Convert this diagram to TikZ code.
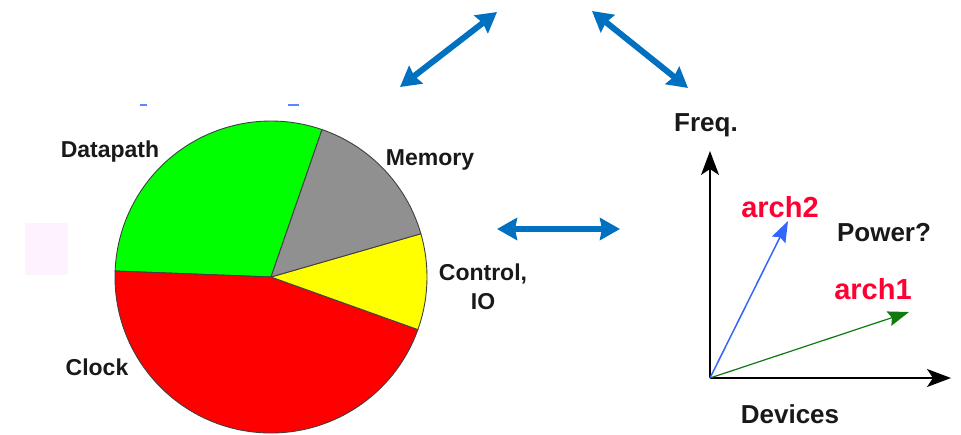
\documentclass[tikz,border=0pt]{standalone}
\usepackage{fontspec}
\setmainfont{Liberation Sans}
\usetikzlibrary{arrows.meta}
\definecolor{pieGreen}{HTML}{00FF00}
\definecolor{pieGray}{HTML}{909090}
\definecolor{pieYellow}{HTML}{FFFF00}
\definecolor{pieRed}{HTML}{FF0000}
\definecolor{linkBlue}{HTML}{0070C0}
\definecolor{archRed}{HTML}{FF0033}
\definecolor{archBlue}{HTML}{3366FF}
\definecolor{archGreen}{HTML}{107A10}
\definecolor{paleMark}{HTML}{FDF2FD}
\tikzset{
  wedge/.style={draw=black!75, line width=0.9pt, line join=round},
  pielabel/.style={font=\bfseries\fontsize{23}{29}\selectfont, text=black!90, inner sep=0pt},
  axislabel/.style={font=\bfseries\fontsize{26}{30}\selectfont, text=black!90, inner sep=0pt},
  archlabel/.style={font=\bfseries\fontsize{29}{32}\selectfont, text=archRed, inner sep=0pt},
  link/.style={linkBlue, line width=6pt, {Stealth[length=20pt,width=22pt,inset=2pt]}-{Stealth[length=20pt,width=22pt,inset=2pt]}},
  axis/.style={black, line width=1.6pt, -{Stealth[length=24pt,width=18pt,inset=6pt]}},
  vec/.style={line width=1.5pt, -{Stealth[length=21pt,width=15pt,inset=3pt]}},
}
\begin{document}
\begin{tikzpicture}[x=1pt, y=-1pt]
\useasboundingbox (0,0) rectangle (961,434);
\fill[white] (0,0) rectangle (961,434);

% faint marks at the left
\fill[paleMark] (25,223) rectangle (68,275);
\fill[archBlue!80] (140,104) rectangle (147,106);
\fill[archBlue!80] (288,104) rectangle (299,106);

% pie chart of power by block
\coordinate (C) at (271,277);
\def\R{156}
\filldraw[wedge, fill=pieGreen]  (C) -- ++(-70.9:\R)  arc[start angle=-70.9,  end angle=-177.8, radius=\R] -- cycle;
\filldraw[wedge, fill=pieRed]    (C) -- ++(-177.8:\R) arc[start angle=-177.8, end angle=-340.3, radius=\R] -- cycle;
\filldraw[wedge, fill=pieYellow] (C) -- ++(19.7:\R)   arc[start angle=19.7,   end angle=-16.1,  radius=\R] -- cycle;
\filldraw[wedge, fill=pieGray]   (C) -- ++(-16.1:\R)  arc[start angle=-16.1,  end angle=-70.9,  radius=\R] -- cycle;

\node[pielabel] (datapath) at (110,152) {Datapath};
\node[pielabel] (memory) at (430,160) {Memory};
\node[pielabel, align=center] (control) at (483,287) {Control,\\IO};
\node[pielabel] (clock) at (97,367) {Clock};

% links between the three views
\coordinate (l1a) at (400,87);
\coordinate (l1b) at (497,12);
\coordinate (l2a) at (592,11);
\coordinate (l2b) at (688,88);
\coordinate (l3a) at (497,229);
\coordinate (l3b) at (620,229);
\draw[link] (l1a) -- (l1b);
\draw[link] (l2a) -- (l2b);
\draw[link] (l3a) -- (l3b);

% frequency vs devices plot
\coordinate (O) at (710,378);
\coordinate (ytip) at (710,151);
\coordinate (xtip) at (951,378);
\coordinate (a2tip) at (788,221);
\coordinate (a1tip) at (909,312);
\draw[axis] (O) -- (ytip);
\draw[axis] (O) -- (xtip);
\draw[vec, archBlue] (O) -- (a2tip);
\draw[vec, archGreen, line width=1.2pt] (O) -- (a1tip);

\node[axislabel] (freq) at (706,125) {Freq.};
\node[axislabel] (devices) at (790,414) {Devices};
\node[axislabel] (power) at (884,233) {Power?};
\node[archlabel] (arch2) at (780,207) {arch2};
\node[archlabel] (arch1) at (873,289) {arch1};
\end{tikzpicture}
\end{document}
